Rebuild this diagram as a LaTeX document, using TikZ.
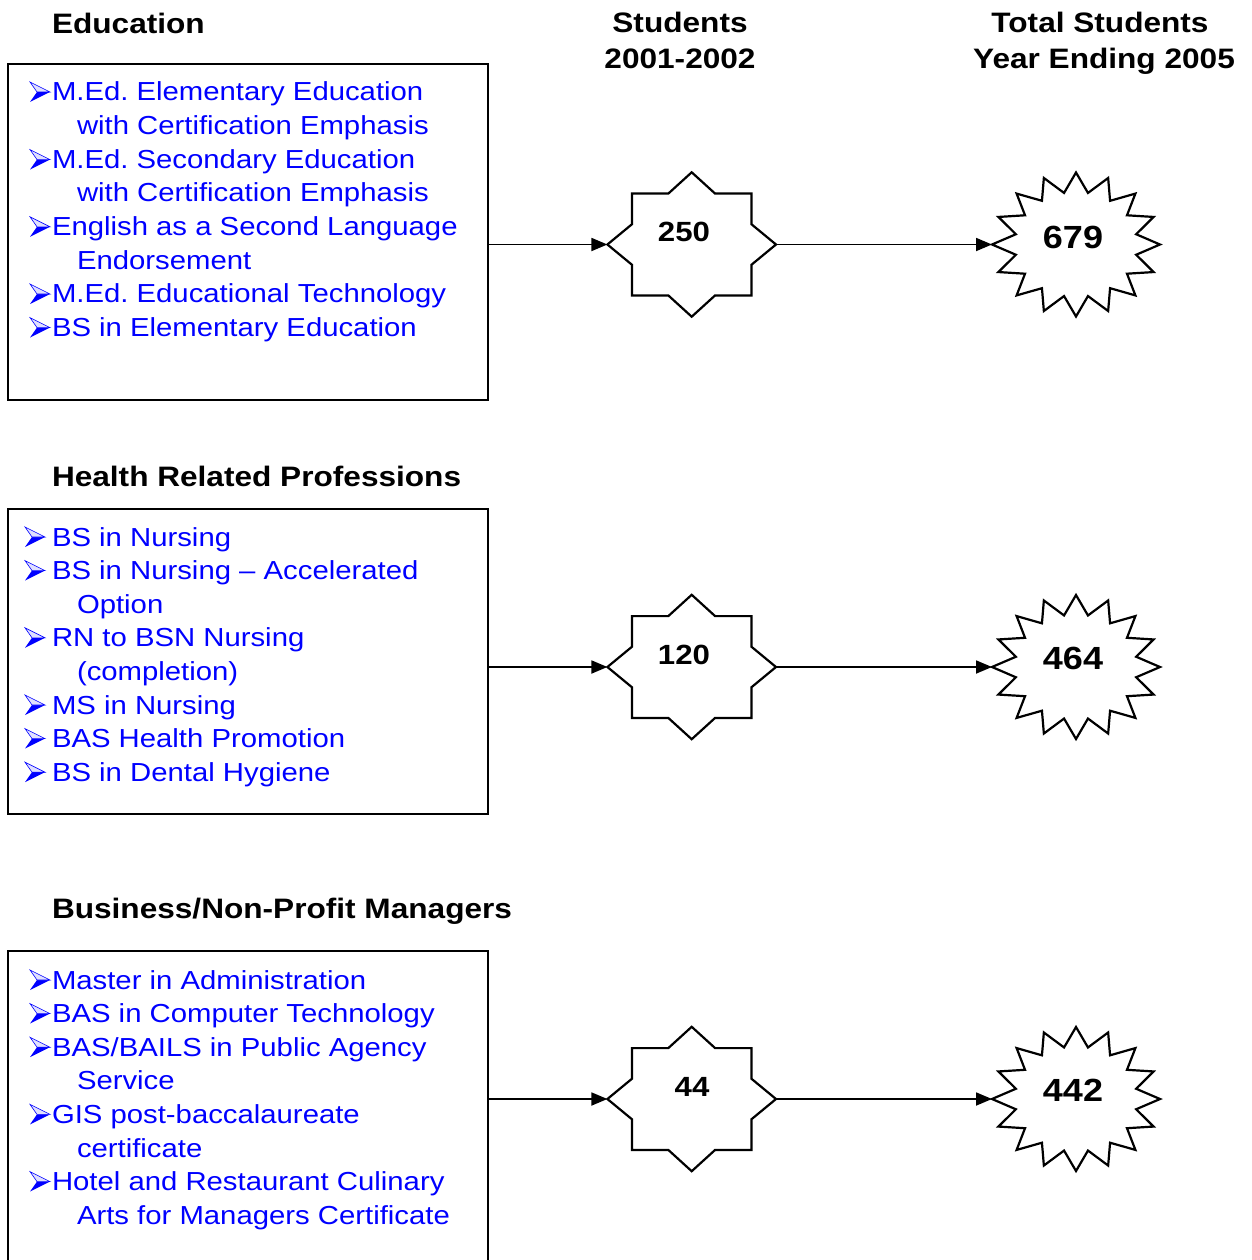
\documentclass[tikz,border=0pt]{standalone}
\usepackage{fontspec}
\setmainfont{Liberation Sans}
\usetikzlibrary{arrows.meta}
\frenchspacing
\tikzset{
  blu/.style={anchor=base west, inner sep=0pt, outer sep=0pt, text=blue,
    font=\fontsize{29.3}{33.6}\selectfont, yscale=0.89},
  hd/.style={anchor=base west, inner sep=0pt, outer sep=0pt,
    font=\bfseries\fontsize{31.6}{36}\selectfont, yscale=0.89},
  hdc/.style={anchor=base, inner sep=0pt, outer sep=0pt,
    font=\bfseries\fontsize{31.6}{36}\selectfont, yscale=0.89},
  numa/.style={anchor=base, inner sep=0pt, outer sep=0pt,
    font=\bfseries\fontsize{31.2}{36}\selectfont, yscale=0.89},
  numb/.style={anchor=base, inner sep=0pt, outer sep=0pt,
    font=\bfseries\fontsize{36}{40}\selectfont, yscale=0.89},
  boxst/.style={draw=black, line width=2.3pt, anchor=north west, inner sep=0pt,
    outer sep=0pt, minimum width=480pt},
  starline/.style={draw=black, line width=2.2pt, line join=miter, fill=white},
  arr/.style={draw=black, line width=1.8pt, -{Triangle[length=16pt,width=13pt]}},
}
\newcommand\mybul[2]{%
  \begin{scope}[shift={(#1,#2)}]
    \fill[blue] (10,0) -- (-10,10) -- (-3,0) -- cycle;
    \filldraw[draw=blue, fill=blue!12, line width=0.6pt, line join=miter]
      (-10,-10) -- (10,0) -- (-3,0) -- cycle;
  \end{scope}}
\newcommand\stareight[3]{%
  \begin{scope}[shift={(#1,#2)}]
    \draw[starline] (0,-72.2) -- (-23.4,-50.9) -- (-59.7,-50.9) -- (-59.7,-20.3)
      -- (-84.3,0) -- (-59.7,20.3) -- (-59.7,50.9) -- (-23.4,50.9) -- (0,72.2)
      -- (23.4,50.9) -- (59.7,50.9) -- (59.7,20.3) -- (84.3,0) -- (59.7,-20.3)
      -- (59.7,-50.9) -- (23.4,-50.9) -- cycle;
    \coordinate (#3W) at (-84.3,0);
    \coordinate (#3E) at (84.3,0);
  \end{scope}}
\newcommand\starsixteen[3]{%
  \begin{scope}[shift={(#1,#2)}]
    \draw[starline] (84,0)
      \foreach \k in {0,...,15} {
        -- ({0.73*84*cos(\k*22.5+11.25)},{0.73*72*sin(\k*22.5+11.25)})
        -- ({84*cos((\k+1)*22.5)},{72*sin((\k+1)*22.5)})
      } -- cycle;
    \coordinate (#3W) at (-84,0);
    \coordinate (#3E) at (84,0);
  \end{scope}}
\begin{document}
\begin{tikzpicture}[x=1pt,y=-1pt]
\useasboundingbox (0,0) rectangle (1251,1260);
\clip (0,0) rectangle (1251,1260);

% headings
\node[hd] (hEdu) at (52,33.5) {Education};
\node[hd] (hHealth) at (52,486.5) {Health Related Professions};
\node[hd] (hBus) at (52,918.5) {Business/Non-Profit Managers};
\node[hdc] (cStudA) at (680,32.5) {Students};
\node[hdc] (cStudB) at (680,68.5) {2001-2002};
\node[hdc] (cTotA) at (1100,32.5) {Total Students};
\node[hdc] (cTotB) at (1104,68.5) {Year Ending 2005};

% boxes
\node[boxst, minimum height=336pt] (box1) at (8,64) {};
\node[boxst, minimum height=305pt] (box2) at (8,509) {};
\node[boxst, minimum height=330pt] (box3) at (8,951) {};

% box 1 text
\mybul{40}{92}
\node[blu] (e1) at (52,101) {M.Ed. Elementary Education};
\node[blu] (e1b) at (77,134.6) {with Certification Emphasis};
\mybul{40}{159.6}
\node[blu] (e2) at (52,168.2) {M.Ed. Secondary Education};
\node[blu] (e2b) at (77,201.8) {with Certification Emphasis};
\mybul{40}{226.8}
\node[blu] (e3) at (52,235.4) {English as a Second Language};
\node[blu] (e3b) at (77,269) {Endorsement};
\mybul{40}{294}
\node[blu] (e4) at (52,302.6) {M.Ed. Educational Technology};
\mybul{40}{327.6}
\node[blu] (e5) at (52,336.2) {BS in Elementary Education};

% box 2 text
\mybul{35}{537}
\node[blu] (n1) at (52,546) {BS in Nursing};
\mybul{35}{570.6}
\node[blu] (n2) at (52,579.6) {BS in Nursing – Accelerated};
\node[blu] (n2b) at (77,613.2) {Option};
\mybul{35}{637.8}
\node[blu] (n3) at (52,646.8) {RN to BSN Nursing};
\node[blu] (n3b) at (77,680.4) {(completion)};
\mybul{35}{705}
\node[blu] (n4) at (52,714) {MS in Nursing};
\mybul{35}{738.6}
\node[blu] (n5) at (52,747.6) {BAS Health Promotion};
\mybul{35}{772.2}
\node[blu] (n6) at (52,781.2) {BS in Dental Hygiene};

% box 3 text
\mybul{40}{980}
\node[blu] (m1) at (52,989) {Master in Administration};
\mybul{40}{1013.6}
\node[blu] (m2) at (52,1022.6) {BAS in Computer Technology};
\mybul{40}{1047.2}
\node[blu] (m3) at (52,1056.2) {BAS/BAILS in Public Agency};
\node[blu] (m3b) at (77,1089.8) {Service};
\mybul{40}{1114.4}
\node[blu] (m4) at (52,1123.4) {GIS post-baccalaureate};
\node[blu] (m4b) at (77,1157) {certificate};
\mybul{40}{1181.6}
\node[blu] (m5) at (52,1190.6) {Hotel and Restaurant Culinary};
\node[blu] (m5b) at (77,1224.2) {Arts for Managers Certificate};

% stars
\stareight{691.7}{244.5}{sa}
\stareight{691.7}{667}{sb}
\stareight{691.7}{1099}{sc}
\starsixteen{1076}{244.5}{ta}
\starsixteen{1076}{667}{tb}
\starsixteen{1076}{1099}{tc}

\node[numa] (va) at (684,241) {250};
\node[numa] (vb) at (684,664) {120};
\node[numa] (vc) at (692,1096) {44};
\node[numb] (wa) at (1073,248) {679};
\node[numb] (wb) at (1073,669) {464};
\node[numb] (wc) at (1073,1101) {442};

% connectors
\draw[arr] (saW -| box1.east) -- (saW);
\draw[arr] (sbW -| box2.east) -- (sbW);
\draw[arr] (scW -| box3.east) -- (scW);
\draw[arr] (saE) -- (taW);
\draw[arr] (sbE) -- (tbW);
\draw[arr] (scE) -- (tcW);
\end{tikzpicture}
\end{document}
